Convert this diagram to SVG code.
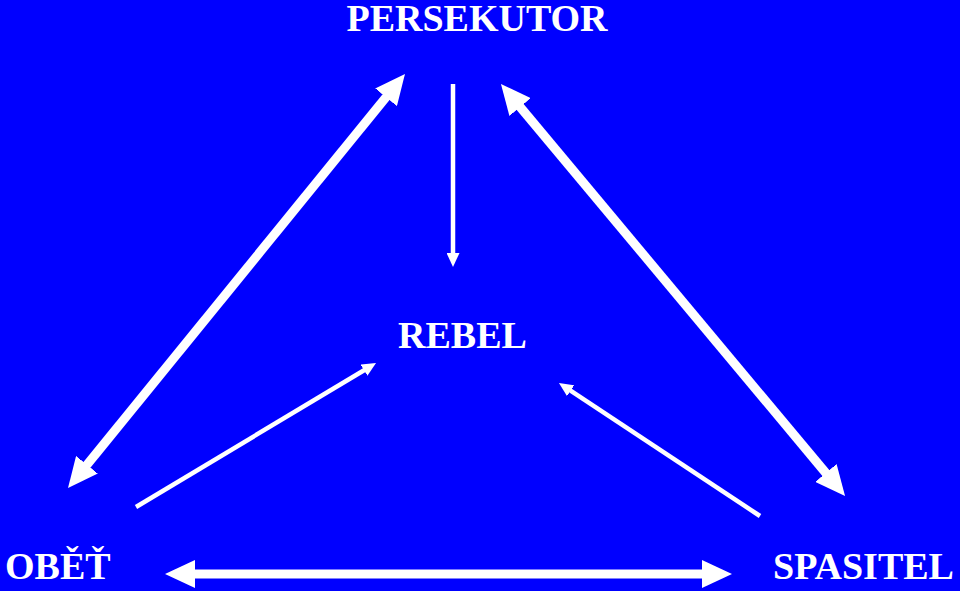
<svg xmlns="http://www.w3.org/2000/svg" width="960" height="591" viewBox="0 0 960 591">
<defs>
<style>
.lbl{font-family:"Liberation Serif","Times New Roman",serif;font-weight:bold;font-size:38px;fill:#fff}
.thick{stroke:#fff;stroke-width:9;fill:none;marker-start:url(#big);marker-end:url(#big)}
.thin{stroke:#fff;stroke-width:4.5;fill:none;marker-end:url(#small)}
</style>
<marker id="big" markerUnits="userSpaceOnUse" viewBox="0 0 30 28" markerWidth="30" markerHeight="28" refX="2" refY="14" orient="auto-start-reverse"><path d="M0,0 L30,14 L0,28 Z" fill="#fff"/></marker>
<marker id="small" markerUnits="userSpaceOnUse" viewBox="0 0 14 13" markerWidth="14" markerHeight="13" refX="1" refY="6.5" orient="auto"><path d="M0,0 L14,6.5 L0,13 Z" fill="#fff"/></marker>
</defs>
<rect width="960" height="591" fill="#0000ff"/>
<g id="connectors">
<line class="thick" x1="85.7" y1="466.3" x2="387.3" y2="95.7"/>
<line class="thick" x1="518.9" y1="105.5" x2="827.1" y2="474.5"/>
<line class="thick" x1="193" y1="574" x2="704" y2="574"/>
<line class="thin" x1="453" y1="84" x2="453" y2="254"/>
<line class="thin" x1="136" y1="507" x2="364.9" y2="369.7"/>
<line class="thin" x1="760" y1="516" x2="569.8" y2="390.2"/>
</g>
<g id="persekutor"><text class="lbl" x="477" y="31" text-anchor="middle">PERSEKUTOR</text></g>
<g id="rebel"><text class="lbl" x="462.5" y="348" text-anchor="middle">REBEL</text></g>
<g id="obet"><text class="lbl" x="5" y="579">OBĚŤ</text></g>
<g id="spasitel"><text class="lbl" x="773" y="579">SPASITEL</text></g>
</svg>
